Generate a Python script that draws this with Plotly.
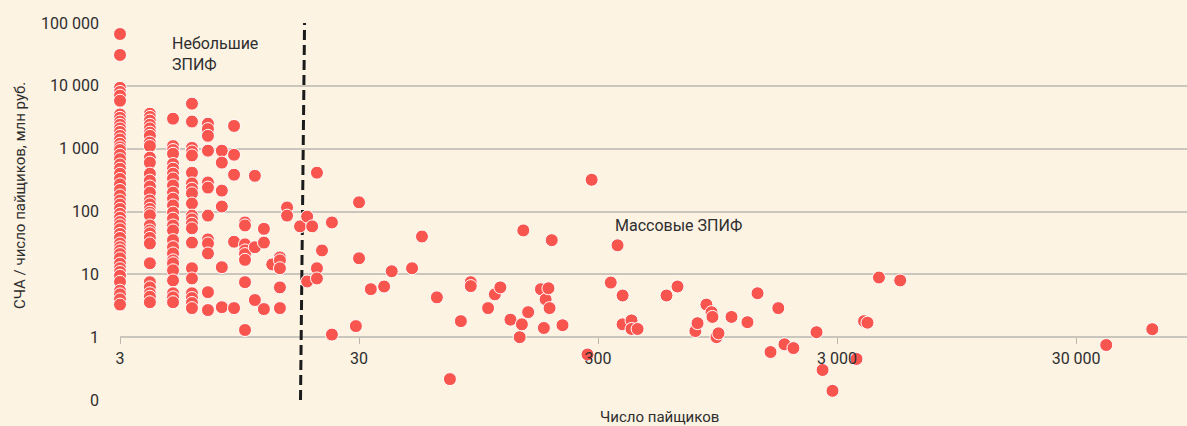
import plotly.graph_objects as go

# small funds: integer number of holders (columns on the left)
small_x = (
    [3] * 50 + [4] * 31 + [5] * 26 + [6] * 21 + [7] * 12 + [8] * 6
    + [9] * 5 + [10] * 8 + [11] * 3 + [12] * 3 + [13] + [14] * 5 + [15] * 2
)
small_y = [
    # 3
    66800, 31000, 9300, 8000, 7000, 5800, 3500, 3100, 2700, 2400, 2100, 1850,
    1600, 1400, 1200, 1050, 950, 800, 680, 560, 480, 400, 330, 270, 220, 180,
    150, 129, 110, 92, 80, 68, 60, 52, 44, 38, 31, 27, 24, 21, 18, 14.8, 12.5,
    10.9, 9.5, 7.6, 5.5, 4.8, 4.0, 3.3,
    # 4
    3600, 3200, 2800, 2400, 2100, 1800, 1600, 1250, 1100, 720, 600, 400, 310,
    250, 200, 150, 130, 110, 96, 87, 60, 50, 45, 38, 31, 15, 7.5, 6.2, 5.0,
    4.4, 3.6,
    # 5
    3000, 1100, 950, 830, 570, 480, 400, 335, 260, 200, 160, 125, 96, 77, 60,
    50, 35, 27, 21.5, 16.7, 15, 11.6, 8, 5, 4.3, 3.6,
    # 6
    5200, 2700, 1030, 900, 780, 415, 280, 230, 195, 134, 86, 75, 64, 54, 32,
    12.5, 8.6, 5, 4.2, 3.5, 2.9,
    # 7
    2500, 2050, 1600, 930, 290, 240, 86, 36, 31, 21.5, 5.2, 2.7,
    # 8
    930, 600, 215, 120, 13, 3.0,
    # 9
    2300, 800, 385, 33, 2.9,
    # 10
    67, 60, 30, 24, 21, 17, 7.5, 1.3,
    # 11
    370, 27, 3.9,
    # 12
    53, 32, 2.8,
    # 13
    14.4,
    # 14
    18.6, 16.7, 12.5, 6.2, 2.9,
    # 15
    116, 86,
]

# larger funds
mass_x = [
    17, 18.2, 18.2, 19.1, 20, 20, 20, 21, 23.1, 23.1, 29.1, 30, 30, 33.6, 38.2,
    41.1, 50, 55, 63.5, 72, 80, 88, 88, 104, 111, 117, 129, 141, 144, 146, 153,
    173, 178, 181, 186, 188, 192, 213, 271, 282, 339, 362, 380, 380, 414, 414,
    439, 580, 645, 766, 782, 852, 895, 903, 939, 957, 1085, 1265, 1394, 1580,
    1703, 1807, 1970, 2461, 2608, 2870, 3617, 3890, 4020, 4490, 5510, 40100,
    62500,
]
mass_y = [
    58, 83, 7.7, 58, 415, 12.5, 8.6, 24, 67, 1.1, 1.5, 140, 18, 5.8, 6.4,
    11.2, 12.5, 40, 4.3, 0.215, 1.8, 7.5, 6.5, 2.9, 4.8, 6.2, 1.9, 1.0, 1.6, 50, 2.5,
    5.8, 1.4, 4.0, 6.0, 2.9, 35, 1.55, 0.53, 320, 7.4, 29, 4.6, 1.6, 1.85, 1.35,
    1.35, 4.6, 6.4, 1.25, 1.67, 3.3, 2.5, 2.1, 1.0, 1.15, 2.1, 1.73, 5.0, 0.58,
    2.9, 0.77, 0.67, 1.2, 0.3, 0.14, 0.45, 1.8, 1.7, 8.9, 8.0, 0.75,
    1.34,
]

x_ticks = [3, 30, 300, 3000, 30000]
x_labels = ["3", "30", "300", "3 000", "30 000"]
y_ticks = [0.1, 1, 10, 100, 1000, 10000, 100000]
y_labels = ["0", "1", "10", "100", "1 000", "10 000", "100 000"]

# boundary between small and mass funds
split_x = [17.07, 17.75]
split_y = [0.1, 100000]

bg = "#FCF3E3"
red = "#F9554F"
txt = "#2E2E2E"
font = "Roboto"

fig = go.Figure()

fig.add_trace(go.Scatter(
    x=split_x, y=split_y, mode="lines",
    line=dict(color="#1B1B1B", width=3, dash="10px,5px"),
    hoverinfo="skip", showlegend=False))

fig.add_trace(go.Scatter(
    x=small_x + mass_x, y=small_y + mass_y, mode="markers",
    marker=dict(color=red, size=13, line=dict(color="white", width=1)),
    cliponaxis=False, showlegend=False))

fig.update_xaxes(
    type="log", range=[0.4771, 4.941],
    tickvals=x_ticks, ticktext=x_labels,
    showgrid=False, zeroline=False, showline=False,
    ticks="outside", ticklen=6, tickcolor="#BDB8AE",
    anchor="free", position=1 / 6, ticklabelstandoff=1,
    tickfont=dict(family=font, size=16, color=txt))

fig.update_yaxes(
    type="log", range=[-1, 5],
    tickvals=y_ticks, ticktext=y_labels,
    showgrid=True, gridcolor="#CBC6BD", gridwidth=1.5,
    zeroline=False, showline=False, ticks="", ticklabelstandoff=20,
    tickfont=dict(family=font, size=16, color=txt))

# texts
fig.add_annotation(text="Небольшие<br>ЗПИФ", xref="paper", yref="paper",
                   x=0.0469, y=0.975, xanchor="left", yanchor="top",
                   align="left", showarrow=False,
                   font=dict(family=font, size=16, color=txt))
fig.add_annotation(text="Массовые ЗПИФ", xref="paper", yref="paper",
                   x=0.462, y=0.464, xanchor="left", yanchor="middle",
                   showarrow=False, font=dict(family=font, size=16, color=txt))
fig.add_annotation(text="Число пайщиков", xref="paper", yref="paper",
                   x=0.506, y=-0.045, xanchor="center", yanchor="middle",
                   showarrow=False, font=dict(family=font, size=15, color=txt))
fig.add_annotation(text="СЧА / число пайщиков, млн руб.", xref="paper",
                   yref="paper", x=-0.0937, y=0.541, textangle=-90,
                   xanchor="center", yanchor="middle", showarrow=False,
                   font=dict(family=font, size=15, color=txt))

fig.update_layout(width=1187, height=426,
                  margin=dict(l=120, r=0, t=23, b=26),
                  paper_bgcolor=bg, plot_bgcolor=bg)

fig.write_html("out.html", config={"displayModeBar": False},
               post_script="document.body.style.margin='0';"
                           f"document.body.style.background='{bg}';")
